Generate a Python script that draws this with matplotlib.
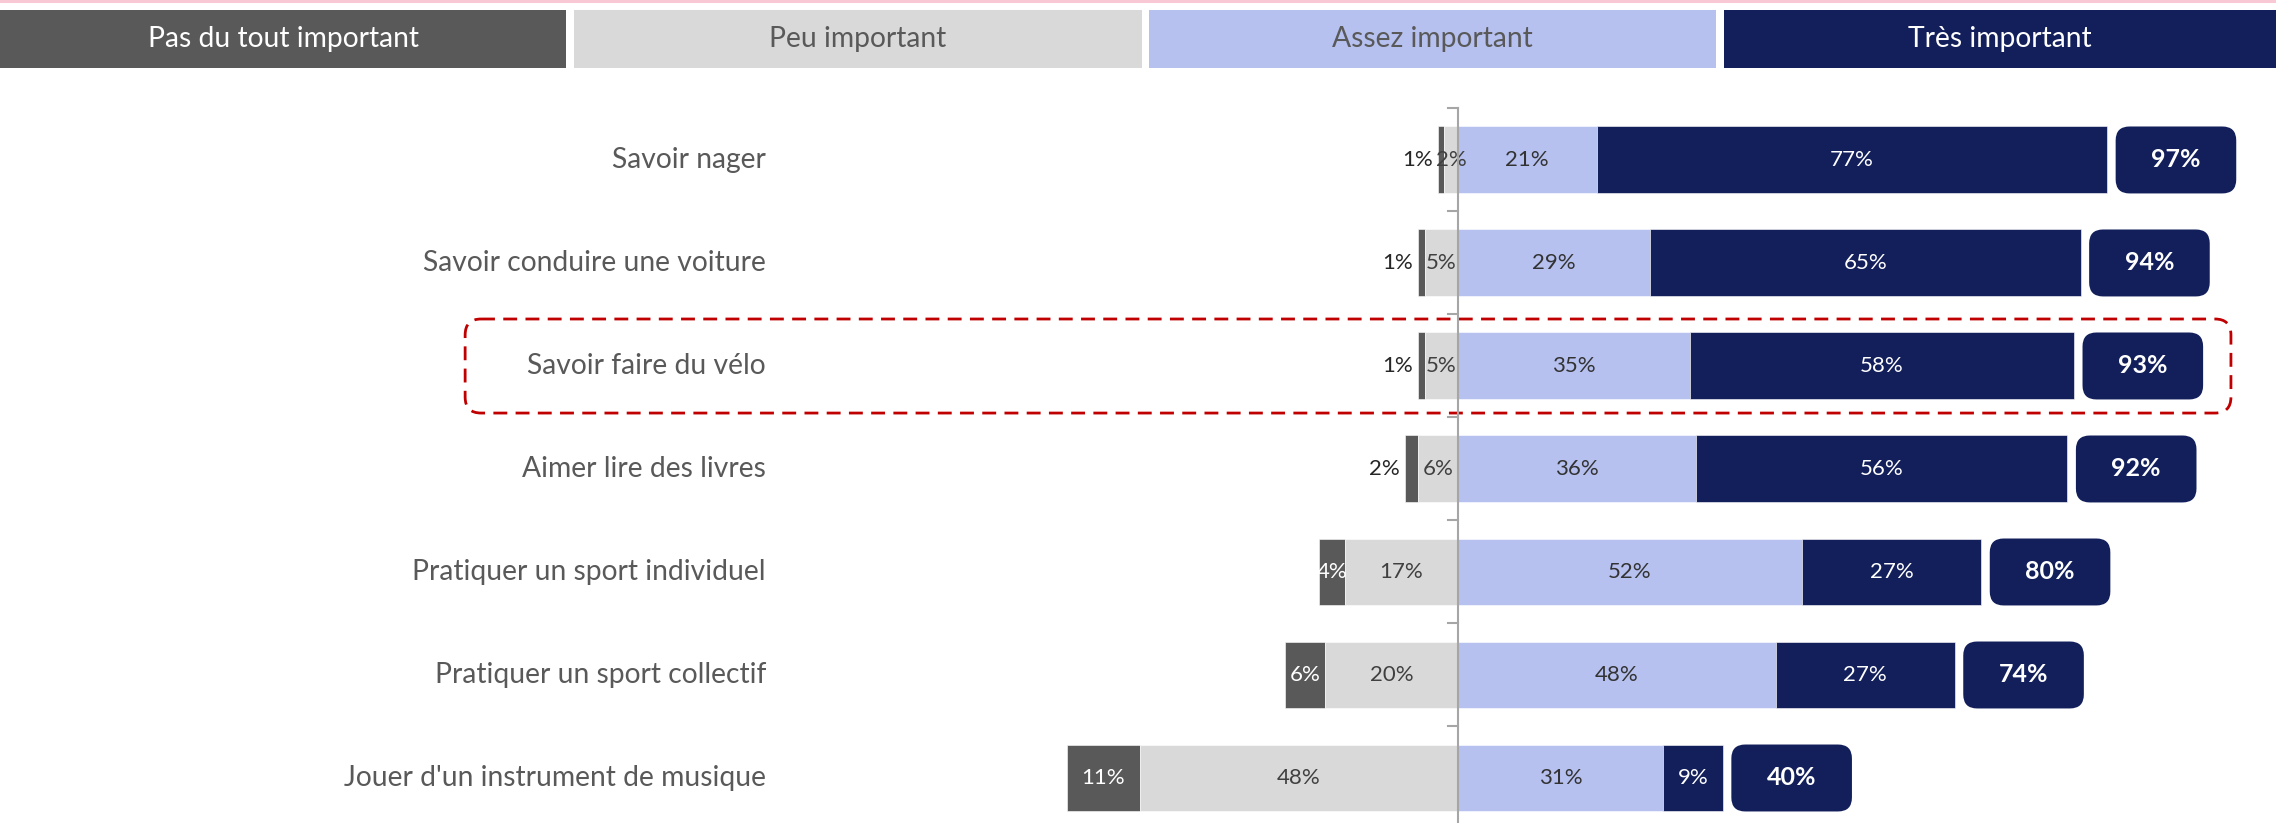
import matplotlib.pyplot as plt
from matplotlib.patches import Rectangle, FancyBboxPatch

# data
categories = ["Savoir nager", "Savoir conduire une voiture", "Savoir faire du vélo",
              "Aimer lire des livres", "Pratiquer un sport individuel",
              "Pratiquer un sport collectif", "Jouer d'un instrument de musique"]
pas_du_tout = [1, 1, 1, 2, 4, 6, 11]
peu = [2, 5, 5, 6, 17, 20, 48]
assez = [21, 29, 35, 36, 52, 48, 31]
tres = [77, 65, 58, 56, 27, 27, 9]
totals = [97, 94, 93, 92, 80, 74, 40]
legend_labels = ["Pas du tout important", "Peu important", "Assez important", "Très important"]
highlight = 2

c_dark = "#595959"
c_light = "#d9d9d9"
c_blue = "#b6c1f0"
c_navy = "#121f5b"
c_text = "#595959"

plt.rcParams['font.family'] = ['Lato', 'DejaVu Sans']

W, H = 2276, 823
fig = plt.figure(figsize=(W / 100, H / 100), dpi=100)
ax = fig.add_axes([0, 0, 1, 1])
ax.set_xlim(-220, 123.5)
ax.set_ylim(6.437, -1.553)
ax.axis('off')

y = list(range(len(categories)))
bh = 0.65
left_pas = [-(a + b) for a, b in zip(pas_du_tout, peu)]
left_peu = [-b for b in peu]
ax.barh(y, pas_du_tout, left=left_pas, height=bh, color=c_dark, edgecolor='white', linewidth=0.4)
ax.barh(y, peu, left=left_peu, height=bh, color=c_light, edgecolor='white', linewidth=0.4)
ax.barh(y, assez, left=0, height=bh, color=c_blue, edgecolor='white', linewidth=0.4)
ax.barh(y, tres, left=assez, height=bh, color=c_navy, edgecolor='white', linewidth=0.4)

fs = 16
for i in y:
    # category label
    ax.text(-104.4, i, categories[i], ha='right', va='center', fontsize=20.3, color=c_text)
    # pas du tout
    if pas_du_tout[i] < 3:
        ax.text(left_pas[i] - 0.8, i, f"{pas_du_tout[i]}%", ha='right', va='center',
                fontsize=fs, color='#262626')
    else:
        ax.text(left_pas[i] + pas_du_tout[i] / 2, i, f"{pas_du_tout[i]}%", ha='center',
                va='center', fontsize=fs, color='white')
    ax.text(-peu[i] / 2, i, f"{peu[i]}%", ha='center', va='center', fontsize=fs, color='#404040')
    ax.text(assez[i] / 2, i, f"{assez[i]}%", ha='center', va='center', fontsize=fs, color='#333333')
    ax.text(assez[i] + tres[i] / 2, i, f"{tres[i]}%", ha='center', va='center', fontsize=fs,
            color='white')
    # total badge
    x0 = assez[i] + tres[i] + 1.3
    bw = 18.2
    badge = FancyBboxPatch((x0, i - bh / 2), bw, bh,
                           boxstyle="round,pad=0,rounding_size=2.1",
                           mutation_aspect=0.0644, fc=c_navy, ec='none')
    ax.add_patch(badge)
    ax.text(x0 + bw / 2, i, f"{totals[i]}%", ha='center', va='center', fontsize=18,
            fontweight='bold', color='white')

# central axis with ticks between rows
ax.plot([0, 0], [-0.5, 6.437], color='#a6a6a6', lw=1.5, zorder=3)
for t in range(len(categories)):
    ax.plot([-1.4, 0], [t - 0.5, t - 0.5], color='#a6a6a6', lw=1.5, zorder=3)

# highlight box
hl = FancyBboxPatch((-149.8, highlight - 0.456), 266.5, 0.913,
                    boxstyle="round,pad=0,rounding_size=2.4", mutation_aspect=0.0644,
                    fill=False, ec='#c00000', lw=2, linestyle=(0, (5, 3)))
ax.add_patch(hl)

# header legend
fig.patches.append(Rectangle((0, 1 - 3 / H), 1, 3 / H, transform=fig.transFigure,
                             fc='#f8c8d4', ec='none'))
hx = [(0, 566), (574, 1142), (1149, 1716), (1724, 2276)]
hcol = [c_dark, c_light, c_blue, c_navy]
tcol = ['white', c_dark, c_dark, 'white']
for (a, b), fc, tc, lab in zip(hx, hcol, tcol, legend_labels):
    fig.patches.append(Rectangle((a / W, 1 - 68 / H), (b - a) / W, 58 / H,
                                 transform=fig.transFigure, fc=fc, ec='none'))
    fig.text((a + b) / 2 / W, 1 - 39 / H, lab, ha='center', va='center', fontsize=20.3,
             color=tc)

fig.savefig("out.png", dpi=100)
